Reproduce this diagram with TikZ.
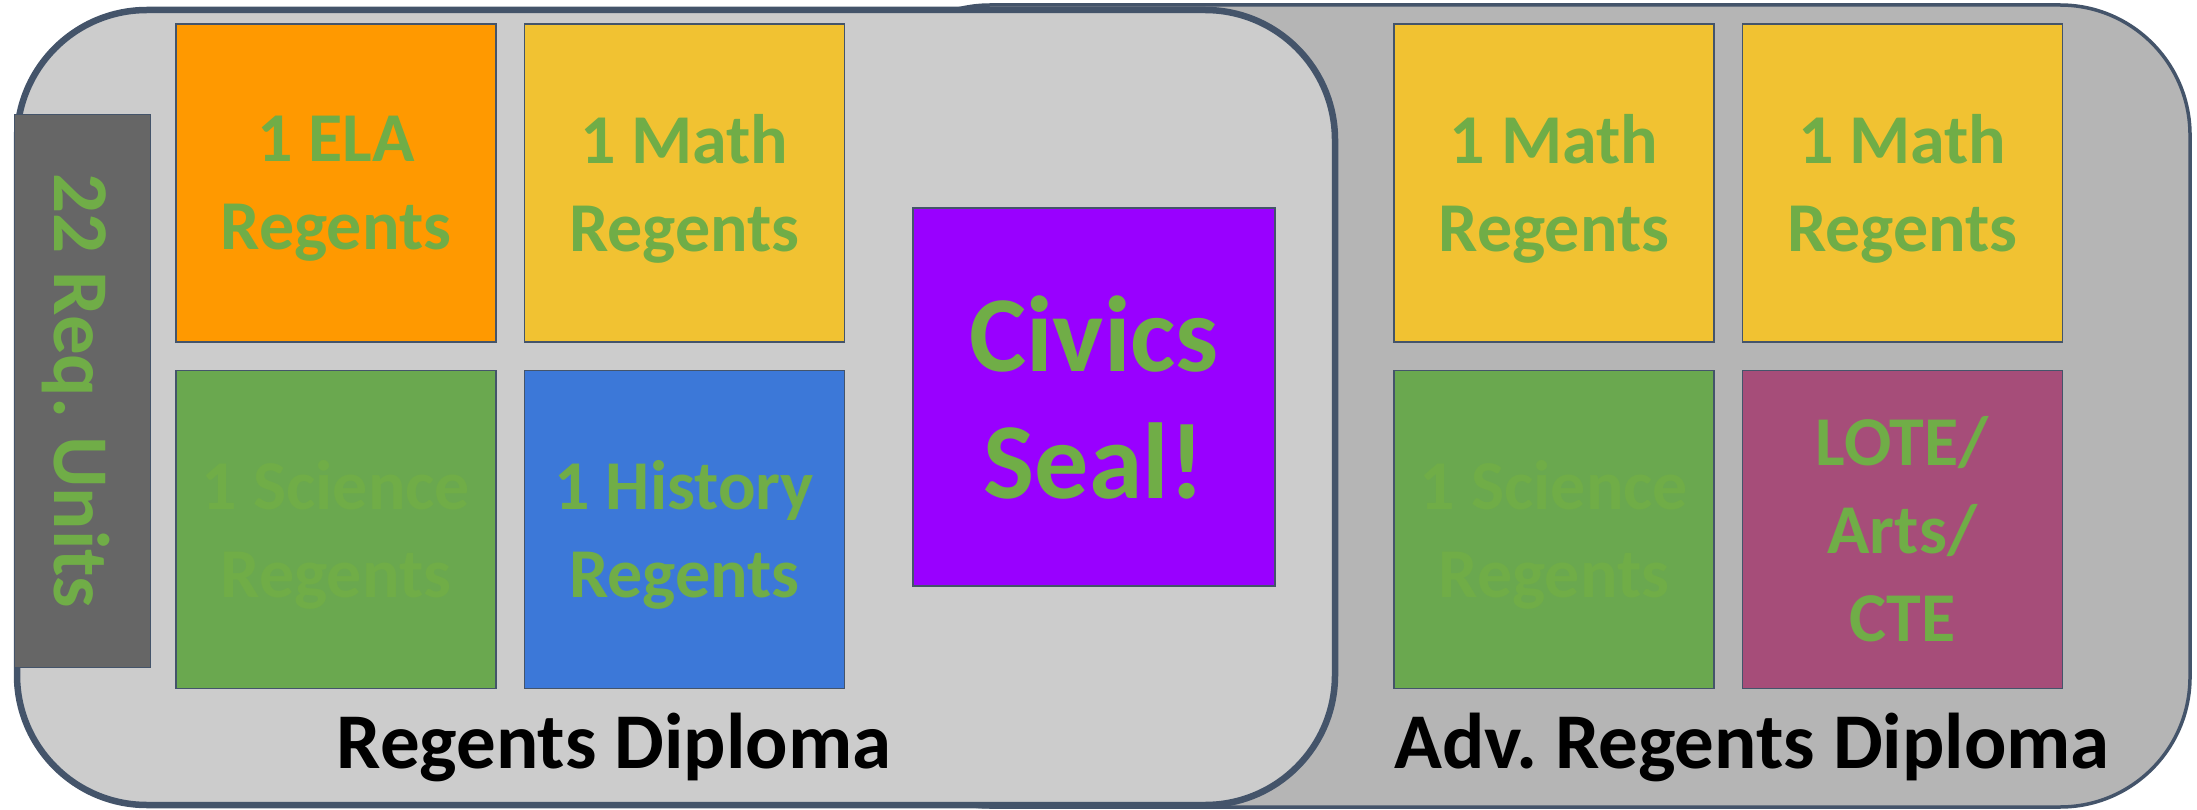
\documentclass[tikz,border=0pt]{standalone}
\usepackage{fontspec}
\setmainfont{Carlito}
\frenchspacing
\usetikzlibrary{positioning}
\definecolor{rdSlate}{HTML}{44546A}
\definecolor{rdFront}{HTML}{CCCCCC}
\definecolor{rdBack}{HTML}{B5B5B5}
\definecolor{rdBar}{HTML}{666666}
\definecolor{rdText}{HTML}{70AD47}
\definecolor{rdOrange}{HTML}{FF9900}
\definecolor{rdYellow}{HTML}{F1C232}
\definecolor{rdGreen}{HTML}{6AA84F}
\definecolor{rdBlue}{HTML}{3C78D8}
\definecolor{rdPurple}{HTML}{9900FF}
\definecolor{rdPlum}{HTML}{A64D79}
\tikzset{
    base/.style={font=\bfseries, align=center},
    panel/.style={draw=rdSlate, rounded corners=130pt},
    tile/.style={base, rectangle, draw=rdSlate, line width=1.3pt, inner sep=0pt,
                 minimum width=320pt, minimum height=318pt, text=rdText, text depth=0pt,
                 font=\fontsize{70}{88}\selectfont\bfseries},
    seal/.style={tile, minimum width=362pt, minimum height=378pt,
                 font=\fontsize{108}{127}\selectfont\bfseries},
    bar/.style={base, rectangle, draw=rdSlate, line width=1pt, fill=rdBar, text=rdText,
                minimum width=553pt, minimum height=136pt, rotate=-90, text depth=0pt,
                font=\fontsize{79}{95}\selectfont\bfseries},
    caption/.style={base, anchor=base, text=black, font=\fontsize{79}{95}\selectfont\bfseries}
}

\begin{document}
\begin{tikzpicture}[x=1pt, y=-1pt, node distance=27pt and 27pt]
  \useasboundingbox (0,0) rectangle (2197,810);

  % Diploma panels
  \draw[panel, fill=rdBack, line width=3.5pt] (860,5) rectangle (2190,807);
  \draw[panel, fill=rdFront, line width=6.5pt] (17,10) rectangle (1335,805);

  % Regents Diploma tiles
  \node[tile, fill=rdOrange] (ela) at (336,183) {1 ELA\\Regents};
  \node[tile, fill=rdYellow, right=of ela] (mathA) {1 Math\\Regents};
  \node[tile, fill=rdGreen, below=of ela] (sciA) {1 Science\\Regents};
  \node[tile, fill=rdBlue, right=of sciA] (hist) {1 History\\Regents};

  % Seal
  \node[seal, fill=rdPurple] (civics) at (1094,397) {Civics\\Seal!};

  % Advanced tiles
  \node[tile, fill=rdYellow] (mathB) at (1554,183) {1 Math\\Regents};
  \node[tile, fill=rdYellow, right=of mathB] (mathC) {1 Math\\Regents};
  \node[tile, fill=rdGreen, below=of mathB] (sciB) {1 Science\\Regents};
  \node[tile, fill=rdPlum, right=of sciB] (lote) {LOTE/\\Arts/\\CTE};

  % Units bar
  \node[bar] (units) at (82,391) {22 Req. Units};

  % Labels
  \node[caption] (regLabel) at (614,768) {Regents Diploma};
  \node[caption] (advLabel) at (1752,768) {Adv. Regents Diploma};
\end{tikzpicture}
\end{document}
